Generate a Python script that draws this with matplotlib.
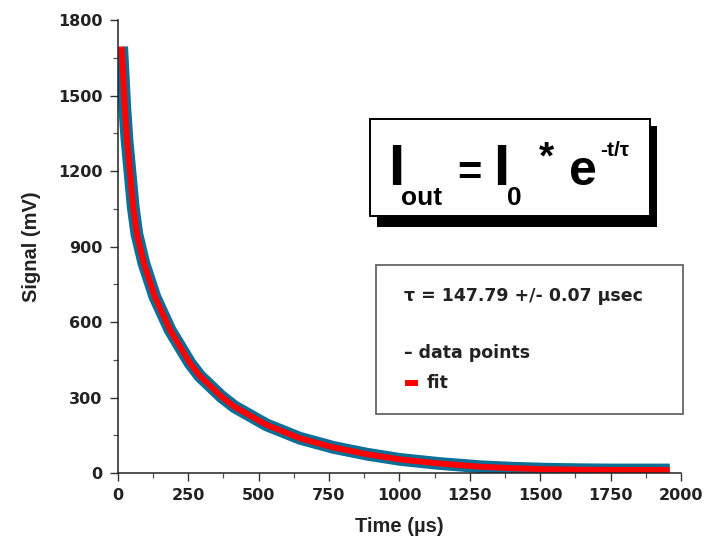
import numpy as np
import matplotlib
matplotlib.use("Agg")
import matplotlib.pyplot as plt
from matplotlib.patches import Rectangle
from matplotlib.ticker import MultipleLocator

# values
time_us = [14, 19, 25, 33, 44, 55, 68, 93, 132, 186, 257, 292, 369, 415, 529,
           647, 765, 884, 1002, 1140, 1286, 1400, 1523, 1640, 1760, 1960]
signal_mv = [1694, 1588, 1455, 1323, 1191, 1058, 950, 833, 700, 568, 436, 385, 303,
             263, 191, 138, 102, 75, 54, 38, 25, 19, 15, 13, 12, 12]

x_ticks = [0, 250, 500, 750, 1000, 1250, 1500, 1750, 2000]
y_ticks = [0, 300, 600, 900, 1200, 1500, 1800]

W, H = 705, 546
fig = plt.figure(figsize=(W / 100, H / 100), dpi=100)


def px(x, y):
    # pixel position -> figure fraction
    return x / W, 1 - y / H


ax = fig.add_axes([117.7 / W, 1 - 473 / H, (681 - 117.7) / W, (473 - 20) / H])
ax.plot(time_us, signal_mv, color="#0b6f97", lw=9.2, solid_capstyle="butt",
        solid_joinstyle="round")
ax.plot(time_us, signal_mv, color="#ff0000", lw=4.3, solid_capstyle="butt",
        solid_joinstyle="round")

ax.set_xlim(0, 2000)
ax.set_ylim(0, 1800)
ax.set_xticks(x_ticks)
ax.set_yticks(y_ticks)
ax.xaxis.set_minor_locator(MultipleLocator(125))
ax.yaxis.set_minor_locator(MultipleLocator(150))
for s in ["top", "right"]:
    ax.spines[s].set_visible(False)
for s in ["left", "bottom"]:
    ax.spines[s].set_linewidth(1.1)
    ax.spines[s].set_color("#222222")
ax.tick_params(which="major", length=6, width=1.0, color="#333333", pad=5,
               labelsize=11.5, labelcolor="#222222")
ax.tick_params(which="minor", length=3.5, width=0.9, color="#555555")
for lab in ax.get_xticklabels() + ax.get_yticklabels():
    lab.set_fontweight("bold")
    lab.set_family("DejaVu Sans")

ax.set_xlabel("Time (µs)", fontsize=14.5, fontweight="bold",
              family="Liberation Sans", color="#222222", labelpad=10)
ax.set_ylabel("Signal (mV)", fontsize=14.5, fontweight="bold",
              family="Liberation Sans", color="#222222", labelpad=12)

# formula box with drop shadow
fig.patches.append(Rectangle(px(377, 227), 280 / W, 101 / H, transform=fig.transFigure,
                             facecolor="black", edgecolor="none", zorder=5))
fig.patches.append(Rectangle(px(369.5, 216.5), 280 / W, 97 / H, transform=fig.transFigure,
                             facecolor="white", edgecolor="black", lw=1.4, zorder=6))

fkw = dict(family="Liberation Sans", fontweight="bold", color="black",
           va="baseline", ha="left", zorder=7)
fig.text(*px(388, 185), "I", fontsize=42, **fkw)
fig.text(*px(401, 205), "out", fontsize=19, **fkw)
fig.text(*px(457, 185), "=", fontsize=30, **fkw)
fig.text(*px(493, 185), "I", fontsize=42, **fkw)
fig.text(*px(507, 205), "0", fontsize=19, **fkw)
fig.text(*px(539, 168), "*", fontsize=28, **fkw)
fig.text(*px(569, 185), "e", fontsize=36, **fkw)
fig.text(*px(600, 156), "-t/τ", fontsize=15, **fkw)

# fit result box
fig.patches.append(Rectangle(px(376, 414), 307 / W, 149 / H, transform=fig.transFigure,
                             facecolor="white", edgecolor="#666666", lw=1.3, zorder=5))
tkw = dict(family="DejaVu Sans", fontweight="bold", color="#222222",
           va="center", ha="left", zorder=7, fontsize=12.5)
fig.text(*px(404, 296), "τ = 147.79 +/- 0.07 µsec", **tkw)
fig.text(*px(404, 353), "– data points", **tkw)
fig.text(*px(427, 383), "fit", **tkw)
fig.patches.append(Rectangle(px(405, 386), 13 / W, 6 / H, transform=fig.transFigure,
                             facecolor="#ff0000", edgecolor="none", zorder=7))

fig.savefig("out.png", dpi=100)
